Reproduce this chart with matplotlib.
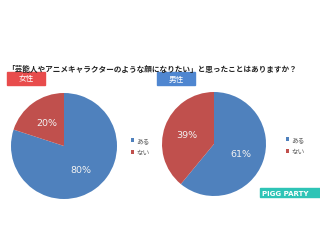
import matplotlib.pyplot as plt

plt.rcParams['font.family'] = ['Noto Sans CJK JP', 'DejaVu Sans']

# data
answers = ["ある", "ない"]
female_pct = [80, 20]
male_pct = [61, 39]
groups = ["女性", "男性"]
title = "「芸能人やアニメキャラクターのような顔になりたい」と思ったことはありますか？"

blue = '#4f81bd'
red = '#c0504d'
W, H = 320, 253

fig = plt.figure(figsize=(W / 100, H / 100), dpi=100)
fig.patch.set_facecolor('white')


def px_axes(cx, cy, r):
    # square axes centred on pixel position (cx, cy) with radius r
    return fig.add_axes([(cx - r) / W, 1 - (cy + r) / H, 2 * r / W, 2 * r / H])


def draw_pie(ax, vals, leg_xy):
    wedges, _, autotexts = ax.pie(vals, colors=[blue, red], startangle=90,
                                  counterclock=False, autopct='%d%%',
                                  pctdistance=0.55, radius=1,
                                  textprops=dict(color='#f2f2f2', fontsize=6.8,
                                                 family='DejaVu Sans'))
    ax.set_xlim(-1, 1)
    ax.set_ylim(-1, 1)
    ax.axis('off')
    fig.legend(wedges, answers, loc='center left',
               bbox_to_anchor=(leg_xy[0] / W, 1 - leg_xy[1] / H),
               frameon=False, fontsize=4.8, handlelength=0.5, handleheight=0.5,
               handletextpad=0.3, labelspacing=0.6, labelcolor='#595959')


draw_pie(px_axes(64, 147, 53), female_pct, (125, 147))
draw_pie(px_axes(214, 145, 52), male_pct, (280, 146))

# title
fig.text(7 / W, 1 - 70 / H, title, fontsize=5.5, fontweight='bold',
         color='#222222', va='center', ha='left')

# group labels
for (x0, x1), lab, col in zip([(7, 45), (157, 195)], groups, ['#e84c4c', '#4f86d0']):
    fig.patches.append(plt.Rectangle((x0 / W, 1 - 86 / H), (x1 - x0) / W, 13 / H,
                                     transform=fig.transFigure, color=col,
                                     figure=fig))
    fig.text((x0 + x1) / 2 / W, 1 - 79.5 / H, lab, color='white', fontsize=5.5,
             ha='center', va='center')

# logo
fig.patches.append(plt.Rectangle((260 / W, 1 - 198 / H), 60 / W, 9 / H,
                                 transform=fig.transFigure, color='#2ec4b6',
                                 figure=fig))
fig.text(262 / W, 1 - 193.5 / H, "PIGG PARTY", color='white', fontsize=5,
         fontweight='bold', ha='left', va='center', family='DejaVu Sans')

fig.savefig("out.png", dpi=100)
